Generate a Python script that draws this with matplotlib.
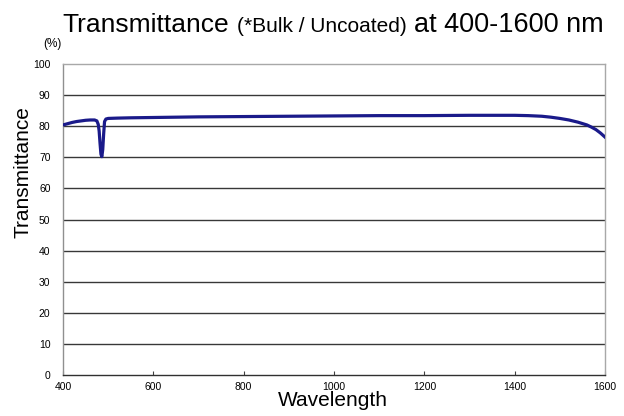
import matplotlib
matplotlib.use("Agg")
import matplotlib.pyplot as plt

wavelength = [400, 410, 420, 430, 440, 450, 460, 470, 475, 478, 480, 482, 484, 486, 488, 490, 492, 495, 500, 520, 550,
              600, 700, 800, 900, 1000, 1100, 1200, 1300, 1400, 1430, 1460, 1480, 1500, 1520, 1540, 1560, 1570, 1580, 1590, 1600]
transmittance = [80.4, 80.8, 81.2, 81.5, 81.7, 81.9, 82.0, 82.0, 81.7, 80.6, 78.5, 74.5, 71.0, 70.2, 72.5, 77.5, 81.5, 82.3, 82.5, 82.6, 82.7,
                 82.8, 83.0, 83.1, 83.2, 83.3, 83.4, 83.4, 83.5, 83.5, 83.4, 83.2, 82.9, 82.5, 82.0, 81.3, 80.4, 79.7, 78.9, 77.8, 76.5]

yticks = [0, 10, 20, 30, 40, 50, 60, 70, 80, 90, 100]
xticks = [400, 600, 800, 1000, 1200, 1400, 1600]
title_parts = ['Transmittance', '(*Bulk / Uncoated)', 'at 400-1600 nm']

plt.rcParams['font.family'] = ['Liberation Sans', 'DejaVu Sans']

W, H = 624, 416
fig = plt.figure(figsize=(W / 100, H / 100), dpi=100)
ax = fig.add_axes([63 / W, 41 / H, 542 / W, 311 / H])

for y in yticks[1:-1]:
    ax.axhline(y, color='#383838', lw=1.0, zorder=1)

ax.plot(wavelength, transmittance, color='#1a1a8a', lw=2.3, zorder=3)

ax.set_xlim(400, 1600)
ax.set_ylim(0, 100)
ax.set_xticks(xticks)
ax.set_yticks(yticks)
ax.tick_params(axis='both', labelsize=7.5, length=3, color='#404040', direction='in')
ax.tick_params(axis='y', length=0, pad=9)
ax.tick_params(axis='x', pad=5)
ax.spines['top'].set_color('#a8a8a8')
ax.spines['right'].set_color('#a8a8a8')
ax.spines['left'].set_color('#909090')
ax.spines['bottom'].set_color('#303030')
for s in ax.spines.values():
    s.set_linewidth(1.0)

fig.text(333 / W, 1 - 401 / H, 'Wavelength', fontsize=15, ha='center', va='center')
fig.text(23 / W, 1 - 172 / H, 'Transmittance', rotation=90, fontsize=15, ha='center', va='center')
fig.text(52 / W, 1 - 44 / H, '(%)', fontsize=8.5, ha='center', va='center')

base = 1 - 32 / H
fig.text(62 / W, base, title_parts[0], fontsize=19, ha='left', va='baseline')
fig.text(237 / W, base, title_parts[1], fontsize=15, ha='left', va='baseline')
fig.text(604 / W, base, title_parts[2], fontsize=19.5, ha='right', va='baseline')

fig.savefig('out.png', dpi=100)
